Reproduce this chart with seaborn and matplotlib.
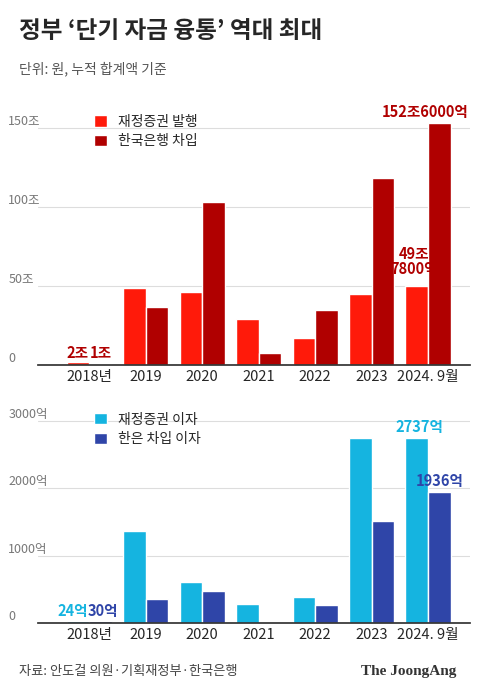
import matplotlib
matplotlib.use("Agg")
import matplotlib.pyplot as plt
import seaborn as sns
import pandas as pd

sns.set_theme(style="white")
plt.rcParams['font.family'] = ['Noto Sans CJK KR', 'DejaVu Sans']

years = ["2018년", "2019", "2020", "2021", "2022", "2023", "2024. 9월"]
bond_issue = [2, 49, 46, 29, 17, 45, 49.78]
bok_borrow = [1, 37, 103, 8, 35, 118, 152.6]
bond_interest = [24, 1370, 610, 280, 390, 2750, 2737]
bok_interest = [30, 350, 470, 0, 270, 1510, 1936]

fig = plt.figure(figsize=(4.8, 6.96), dpi=100)
fig.text(0.04, 0.945, "정부 ‘단기 자금 융통’ 역대 최대", fontsize=17, fontweight="bold")
fig.text(0.04, 0.895, "단위: 원, 누적 합계액 기준", fontsize=10, color="#555555")
fig.text(0.04, 0.03, "자료: 안도걸 의원·기획재정부·한국은행", fontsize=9.5, color="#444444")
fig.text(0.95, 0.03, "The JoongAng", fontsize=11, fontweight="bold", ha="right",
         family=["Liberation Serif", "DejaVu Serif"], color="#333333")

def panel(rect, a, b, names, colors, ymax, ticks, ticklabels, labels):
    ax = fig.add_axes(rect)
    df = pd.DataFrame({"year": years * 2, "v": a + b,
                       "s": [names[0]] * len(years) + [names[1]] * len(years)})
    sns.barplot(data=df, x="year", y="v", hue="s", palette=colors, ax=ax,
                width=0.8, gap=0.0, saturation=1)
    ax.set_ylim(0, ymax)
    ax.set_yticks(ticks)
    ax.set_yticklabels([])
    for t, l in zip(ticks, ticklabels):
        ax.axhline(t, color="#dddddd", lw=0.8, zorder=0)
        ax.text(-0.07, t, l, transform=ax.get_yaxis_transform(), fontsize=9,
                color="#777777", va="bottom", ha="left")
    ax.tick_params(axis="y", length=0)
    ax.set_xlabel(""); ax.set_ylabel("")
    ax.tick_params(axis="x", labelsize=10.5, length=0)
    for s in ["top", "right", "left"]:
        ax.spines[s].set_visible(False)
    ax.spines["bottom"].set_color("#333333")
    ax.set_xlim(-0.9, 6.75)
    ax.legend(loc="upper left", bbox_to_anchor=(0.1, 1.05), frameon=False,
              fontsize=10, handlelength=0.9, handleheight=0.9, labelspacing=0.4)
    for (x, y, txt, c) in labels:
        ax.text(x, y, txt, ha="center", va="bottom", fontsize=10.5,
                fontweight="bold", color=c, linespacing=0.9)
    return ax

red, dred = "#ff1a0a", "#b00000"
panel([0.08, 0.475, 0.9, 0.36], bond_issue, bok_borrow, ["재정증권 발행", "한국은행 차입"],
      [red, dred], 158, [0, 50, 100, 150], ["0", "50조", "100조", "150조"],
      [(-0.2, 3, "2조", dred), (0.2, 3, "1조", dred),
       (5.75, 56, "49조\n7800억", dred), (5.95, 155, "152조6000억", dred)])
cyan, navy = "#15b4e0", "#2f45a8"
panel([0.08, 0.105, 0.9, 0.305], bond_interest, bok_interest, ["재정증권 이자", "한은 차입 이자"],
      [cyan, navy], 3150, [0, 1000, 2000, 3000], ["0", "1000억", "2000억", "3000억"],
      [(-0.3, 60, "24억", cyan), (0.25, 60, "30억", navy),
       (5.85, 2790, "2737억", cyan), (6.2, 1980, "1936억", navy)])

fig.savefig("out.png", dpi=100, facecolor="white")
